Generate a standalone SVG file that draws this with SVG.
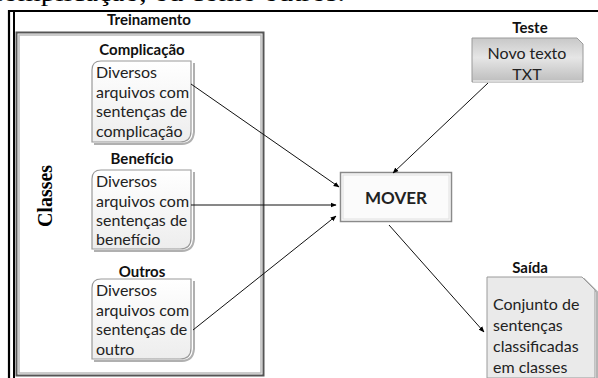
<svg xmlns="http://www.w3.org/2000/svg" width="598" height="378" viewBox="0 0 598 378">
<defs>
  <linearGradient id="gFile" x1="0" y1="0" x2="0" y2="1">
    <stop offset="0" stop-color="#ffffff"/>
    <stop offset="1" stop-color="#ededed"/>
  </linearGradient>
  <linearGradient id="gTeste" x1="0" y1="0" x2="0" y2="1">
    <stop offset="0" stop-color="#c8c8c8"/>
    <stop offset="0.45" stop-color="#e6e6e6"/>
    <stop offset="1" stop-color="#bdbdbd"/>
  </linearGradient>
  <marker id="arr" viewBox="0 0 10 10" refX="9" refY="5" markerWidth="6" markerHeight="6" orient="auto" markerUnits="userSpaceOnUse">
    <path d="M0,1 L10,5 L0,9 Z" fill="#000"/>
  </marker>
  <style>
    .lbl{font-family:Lato,"Open Sans","Liberation Sans",sans-serif;font-weight:bold;font-size:15px;fill:#111;text-anchor:middle}
    .txt{font-family:Lato,"Open Sans","Liberation Sans",sans-serif;font-size:16px;fill:#222}
    .file{fill:url(#gFile);stroke:#9a9a9a;stroke-width:1.2}
    .shadow{fill:none;stroke:#b0b0b0;stroke-width:2}
    .conn{fill:none;stroke:#111;stroke-width:1;marker-end:url(#arr)}
  </style>
</defs>
<rect width="598" height="378" fill="#fff"/>

<!-- clipped text from previous page -->
<text x="-10" y="0.5" font-family="'Liberation Serif',serif" font-size="24" fill="#000" textLength="355" lengthAdjust="spacingAndGlyphs">complicação, ou como outros.</text>

<!-- frames -->
<g id="frame">
  <path d="M9,378 V11 H598" fill="none" stroke="#000" stroke-width="2.2"/>
  <line x1="14" y1="11" x2="14" y2="378" stroke="#000" stroke-width="2"/>
</g>
<g id="treinamento">
  <text class="lbl" x="149" y="25">Treinamento</text>
  <rect x="16.5" y="32.5" width="247" height="343" fill="#fff" stroke="#555" stroke-width="2"/>
  <rect x="19" y="35" width="242" height="338" fill="none" stroke="#bbb" stroke-width="1.5"/>
  <text x="0" y="0" transform="translate(52,196) rotate(-90)" font-family="'Liberation Serif',serif" font-weight="bold" font-size="20" text-anchor="middle" fill="#000">Classes</text>
</g>

<g id="complicacao">
  <text class="lbl" x="142" y="55">Complicação</text>
  <path class="shadow" d="M194,63 V132 Q193,144 182,144 H94"/>
  <path class="file" d="M101,61 H191 V131 Q191,142 180,142 H92 V70 Q92,61 101,61 Z"/>
  <text class="txt" x="96" y="78">Diversos</text>
  <text class="txt" x="96" y="98">arquivos com</text>
  <text class="txt" x="96" y="117">sentenças de</text>
  <text class="txt" x="96" y="137">complicação</text>
</g>

<g id="beneficio">
  <text class="lbl" x="142" y="164">Benefício</text>
  <path class="shadow" d="M194,172 V239 Q193,251 182,251 H94"/>
  <path class="file" d="M101,170 H191 V238 Q191,249 180,249 H92 V179 Q92,170 101,170 Z"/>
  <text class="txt" x="96" y="187">Diversos</text>
  <text class="txt" x="96" y="207">arquivos com</text>
  <text class="txt" x="96" y="226">sentenças de</text>
  <text class="txt" x="96" y="245">benefício</text>
</g>

<g id="outros">
  <text class="lbl" x="142" y="277">Outros</text>
  <path class="shadow" d="M194,281 V349 Q193,361 182,361 H94"/>
  <path class="file" d="M101,279 H191 V348 Q191,359 180,359 H92 V288 Q92,279 101,279 Z"/>
  <text class="txt" x="96" y="296">Diversos</text>
  <text class="txt" x="96" y="316">arquivos com</text>
  <text class="txt" x="96" y="335">sentenças de</text>
  <text class="txt" x="96" y="355">outro</text>
</g>

<g id="teste">
  <text class="lbl" x="530" y="33">Teste</text>
  <path d="M472,38 H577 L583,44 V82 H472 Z" fill="url(#gTeste)" stroke="#9a9a9a" stroke-width="1"/>
  <path d="M473,81 H582" stroke="#e8e8e8" stroke-width="1.5"/>
  <text class="txt" x="527" y="59" text-anchor="middle">Novo texto</text>
  <text class="txt" x="527" y="80" text-anchor="middle">TXT</text>
</g>

<g id="mover">
  <rect x="340.5" y="172.5" width="111" height="49" fill="#fbfbfb" stroke="#8a8a8a" stroke-width="1.5"/>
  <rect x="343" y="175" width="106" height="44" fill="none" stroke="#e0e0e0" stroke-width="1"/>
  <text x="396" y="204" font-family="Lato,'Open Sans','Liberation Sans',sans-serif" font-weight="bold" font-size="17" text-anchor="middle" fill="#222">MOVER</text>
</g>

<g id="saida">
  <text class="lbl" x="530" y="273">Saída</text>
  <path d="M489,279 H584 L597,292 V378" fill="none" stroke="#b5b5b5" stroke-width="2"/>
  <path d="M487,277 H582 L595,290 V378 H487 Z" fill="#eaeaea" stroke="#9a9a9a" stroke-width="1"/>
  <text class="txt" x="493" y="310">Conjunto de</text>
  <text class="txt" x="493" y="331">sentenças</text>
  <text class="txt" x="493" y="352">classificadas</text>
  <text class="txt" x="493" y="373">em classes</text>
</g>

<g id="connectors">
  <line class="conn" x1="191" y1="84" x2="339" y2="187"/>
  <line class="conn" x1="191" y1="205" x2="336" y2="205"/>
  <line class="conn" x1="193" y1="330" x2="336" y2="216"/>
  <line class="conn" x1="488" y1="83" x2="393" y2="173"/>
  <line class="conn" x1="389" y1="225" x2="484" y2="332"/>
</g>
</svg>
